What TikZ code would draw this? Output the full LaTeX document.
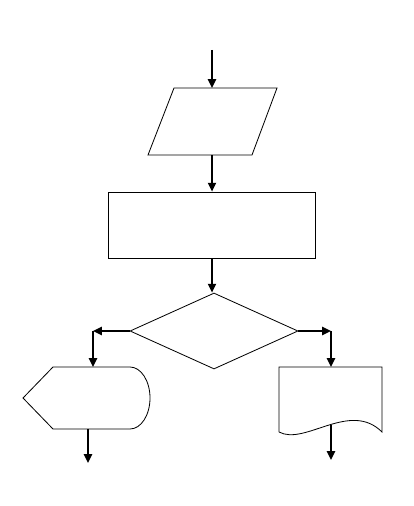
\documentclass[tikz,border=0pt]{standalone}
\usetikzlibrary{shapes.geometric,arrows.meta}

\tikzset{
  flow/.style={line width=1.3pt, -{Triangle[length=7.5pt,width=7pt]}},
  outline/.style={draw=black, line width=0.7pt},
}

\begin{document}
\begin{tikzpicture}[x=0.03cm, y=-0.03cm]
  \useasboundingbox (0,0) rectangle (413,506);
  % main column: input, process, decision
  \coordinate (start) at (212,50);
  \coordinate (intop) at (212,88);
  \coordinate (inbot) at (212,155);
  \draw[outline] (174,88) -- (277,88) -- (252,155) -- (148,155) -- cycle;
  \node[rectangle, outline, minimum width=6.21cm, minimum height=1.98cm] (proc) at (211.5,225) {};
  \node[diamond, outline, minimum width=5.04cm, minimum height=2.28cm, inner sep=0pt] (cond) at (214,331) {};
  \draw[flow] (start) -- (intop);
  \draw[flow] (inbot) -- (proc.north -| inbot);
  \draw[flow] (proc.south -| inbot) -- (cond.north -| inbot);
  % left branch: display
  \coordinate (lturn) at (93,331);
  \coordinate (disptop) at (93,367);
  \coordinate (dispbot) at (88,429);
  \coordinate (lend) at (88,463);
  \draw[outline] (23,398) -- (53,367) -- (130,367)
    arc[start angle=-90, end angle=90, x radius=20, y radius=31]
    -- (53,429) -- cycle;
  \draw[flow] (cond.west) -- (lturn);
  \draw[flow] (lturn) -- (disptop);
  \draw[flow] (dispbot) -- (lend);
  % right branch: document
  \coordinate (rturn) at (331,331);
  \coordinate (doctop) at (331,367);
  \coordinate (docbot) at (331,425);
  \coordinate (rend) at (331,460);
  \draw[outline] (279,432) -- (279,367) -- (382,367) -- (382,432)
    .. controls (350,400) and (305,446) .. (279,432);
  \draw[flow] (cond.east) -- (rturn);
  \draw[flow] (rturn) -- (doctop);
  \draw[flow] (docbot) -- (rend);
\end{tikzpicture}
\end{document}
